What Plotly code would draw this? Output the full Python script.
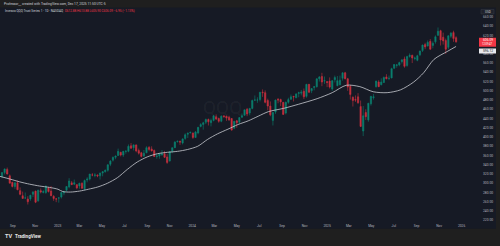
import plotly.graph_objects as go
import pandas as pd

# ---------------- data (weekly OHLC) ----------------
first_week_end = "2022-08-05"

opens_2022 = [315, 323, 330, 316, 302, 293, 301, 284, 273, 268, 266, 266, 276, 283, 262, 284, 280, 280, 290, 283, 272, 266]
highs_2022 = [324, 332, 334, 319, 303, 302, 306, 291, 282, 280, 272, 275, 283, 284, 286, 289, 285, 296, 292, 294, 274, 268]
lows_2022 = [311, 319, 319, 300, 291, 288, 285, 274, 267, 267, 254, 262, 270, 257, 260, 278, 278, 277, 280, 272, 262, 259]
closes_2022 = [323, 331, 320, 300, 293, 301, 286, 276, 267, 268, 260, 274, 281, 259, 285, 281, 282, 293, 282, 273, 267, 266]

opens_2023 = [268, 270, 279, 285, 292, 301, 298, 297, 294, 300, 288, 307, 309, 318, 317, 318, 316, 322, 325, 328, 341, 350, 356, 360, 367, 361,
              369, 369, 381, 377, 383, 371, 366, 359, 366, 378, 374, 371, 358, 359, 361, 364, 357, 348, 369, 377, 390, 391, 387, 397, 406, 409]
highs_2023 = [270, 281, 283, 294, 311, 305, 308, 298, 301, 302, 308, 313, 320, 322, 322, 319, 323, 326, 330, 341, 350, 358, 360, 375, 368, 370,
              372, 384, 387, 384, 384, 375, 368, 372, 380, 380, 380, 373, 364, 365, 372, 370, 363, 370, 377, 391, 392, 392, 397, 408, 410, 412]
lows_2023 = [258, 267, 274, 282, 289, 296, 296, 287, 288, 288, 285, 302, 306, 315, 313, 313, 308, 315, 323, 325, 337, 347, 352, 359, 358, 357,
             364, 367, 374, 371, 367, 362, 356, 357, 365, 369, 369, 357, 353, 353, 360, 355, 342, 347, 365, 376, 388, 383, 384, 394, 398, 408]
closes_2023 = [268, 280, 282, 293, 305, 297, 301, 290, 300, 289, 306, 309, 320, 318, 318, 316, 322, 325, 328, 340, 348, 356, 359, 369, 361, 369,
               369, 380, 376, 383, 370, 365, 358, 365, 377, 373, 370, 358, 359, 364, 364, 356, 345, 368, 377, 389, 391, 389, 396, 405, 408, 410]

opens_2024 = [409, 399, 409, 423, 427, 432, 438, 431, 436, 444, 440, 434, 446, 445, 443, 440, 419, 435, 432, 443, 447, 460, 452, 462, 480, 480,
              481, 497, 496, 479, 467, 436, 454, 482, 481, 475, 452, 475, 482, 488, 485, 494, 495, 499, 488, 514, 500, 507, 509, 526, 531, 521]
highs_2024 = [409, 413, 422, 430, 433, 440, 440, 440, 447, 449, 442, 447, 446, 446, 446, 441, 435, 437, 443, 451, 459, 463, 463, 481, 490, 486,
              497, 503, 501, 483, 477, 454, 481, 484, 483, 476, 477, 485, 492, 489, 495, 498, 502, 505, 515, 515, 506, 510, 527, 532, 539, 531]
lows_2024 = [396, 399, 406, 421, 416, 428, 425, 423, 434, 437, 431, 432, 442, 435, 435, 414, 417, 420, 430, 441, 446, 445, 447, 460, 478, 474,
             477, 487, 473, 458, 445, 425, 450, 473, 467, 448, 449, 472, 480, 477, 484, 486, 490, 482, 485, 495, 495, 501, 507, 520, 510, 515]
closes_2024 = [399, 411, 421, 427, 431, 438, 433, 436, 446, 439, 434, 445, 444, 441, 437, 415, 434, 431, 442, 446, 459, 450, 462, 479, 480, 480,
               497, 496, 475, 467, 448, 453, 480, 480, 476, 449, 475, 481, 487, 487, 493, 496, 497, 487, 514, 497, 505, 509, 526, 530, 519, 522]

opens_2025 = [520, 521, 504, 524, 511, 513, 527, 539, 526, 510, 486, 481, 487, 466, 413, 453, 437, 472, 485, 509, 519, 513, 518, 530, 527, 528,
              549, 555, 556, 563, 569, 555, 574, 577, 570, 566, 578, 587, 600, 597, 607, 598, 606, 620, 630, 616, 609, 594, 618, 626, 615]
highs_2025 = [521, 529, 523, 533, 532, 533, 540, 541, 528, 513, 488, 490, 495, 479, 467, 460, 474, 489, 493, 522, 523, 527, 531, 536, 533, 550,
              558, 558, 563, 568, 574, 576, 581, 578, 574, 578, 587, 600, 604, 609, 612, 607, 620, 637, 632, 626, 613, 620, 627, 630, 618]
lows_2025 = [508, 505, 500, 518, 510, 512, 522, 525, 500, 481, 466, 476, 472, 422, 402, 437, 433, 468, 481, 507, 508, 512, 517, 525, 523, 527,
             547, 550, 553, 559, 550, 552, 572, 560, 566, 564, 575, 584, 590, 596, 589, 592, 602, 619, 598, 600, 580, 590, 614, 606, 604]
closes_2025 = [518, 508, 522, 529, 522, 523, 539, 526, 508, 492, 479, 480, 474, 423, 446, 444, 473, 488, 487, 521, 509, 519, 529, 526, 527, 548,
               557, 556, 561, 567, 553, 574, 577, 571, 571, 576, 586, 599, 595, 605, 590, 603, 617, 629, 610, 608, 590, 619, 625, 613, 606]

# moving average (white line)
ma_dates = ["2022-07-28", "2022-08-25", "2022-09-20", "2022-10-17", "2022-11-13", "2022-12-10", "2023-01-02", "2023-01-15",
            "2023-02-05", "2023-03-01", "2023-03-25", "2023-04-20", "2023-05-16", "2023-06-12", "2023-07-09", "2023-08-05",
            "2023-09-01", "2023-09-29", "2023-10-26", "2023-11-22", "2023-12-19", "2024-01-16", "2024-02-12", "2024-03-10",
            "2024-04-07", "2024-05-04", "2024-06-01", "2024-06-28", "2024-07-26", "2024-09-05", "2024-10-16", "2024-12-05",
            "2025-01-15", "2025-02-22", "2025-03-31", "2025-05-06", "2025-06-13", "2025-07-19", "2025-08-24", "2025-09-20",
            "2025-10-18", "2025-11-25", "2025-12-17"]
ma_values = [315, 309, 303, 298, 294, 291, 287, 282, 281, 283, 287, 292, 300, 312, 330, 346,
             357, 364, 367, 369, 373, 380, 395, 407, 417, 427, 435, 445, 455, 462, 471, 483,
             496, 512, 509, 498, 496, 502, 519, 539, 568, 586, 596]

last_price = 606.09
last_ma = 596.12

ytick_values = list(range(220, 661, 20))
xtick_dates = ["2022-09-01", "2022-11-01", "2023-01-01", "2023-03-01", "2023-05-01", "2023-07-01", "2023-09-01",
               "2023-11-01", "2024-01-01", "2024-03-01", "2024-05-01", "2024-07-01", "2024-09-01", "2024-11-01",
               "2025-01-01", "2025-03-01", "2025-05-01", "2025-07-01", "2025-09-01", "2025-11-01", "2026-01-01"]
xtick_labels = ["Sep", "Nov", "2023", "Mar", "May", "Jul", "Sep", "Nov", "2024", "Mar", "May", "Jul", "Sep", "Nov",
                "2025", "Mar", "May", "Jul", "Sep", "Nov", "2026"]

header_text = "Professor__ created with TradingView.com, Dec 17, 2025 11:50 UTC-5"
symbol_text = "Invesco QQQ Trust Series 1 · 1D · NASDAQ"
ohlc_text = "O612.88 H613.88 L605.90 C606.09 −6.95 (−1.13%)"

# ---------------- build ----------------
opens = opens_2022 + opens_2023 + opens_2024 + opens_2025
highs = highs_2022 + highs_2023 + highs_2024 + highs_2025
lows = lows_2022 + lows_2023 + lows_2024 + lows_2025
closes = closes_2022 + closes_2023 + closes_2024 + closes_2025
weeks = pd.date_range(first_week_end, periods=len(closes), freq="W-FRI")
xc = weeks - pd.Timedelta(days=2)

W, H = 500, 246
def px(x):
    return x / W
def py(y):
    return 1 - y / H

BG = "#161a25"
STRIP = "#1f1f1f"
TXT = "#b2b5be"
UP = "#089981"
DN = "#f23645"
FONT = "Roboto"

fig = go.Figure()
fig.add_trace(go.Candlestick(
    x=xc, open=opens, high=highs, low=lows, close=closes,
    increasing=dict(line=dict(color=UP, width=0.6), fillcolor=UP),
    decreasing=dict(line=dict(color=DN, width=0.6), fillcolor=DN),
    whiskerwidth=0, opacity=0.8, hoverinfo="skip"))
fig.add_trace(go.Scatter(x=ma_dates, y=ma_values, mode="lines",
                         line=dict(color="#c9cbd2", width=0.8, shape="spline", smoothing=0.8),
                         hoverinfo="skip"))

shapes = [
    dict(type="rect", xref="paper", yref="paper", x0=0, x1=px(496), y0=py(230.5), y1=py(7.5),
         fillcolor=BG, line=dict(width=0), layer="below"),
    # last price label
    dict(type="rect", xref="paper", yref="y", x0=px(479), x1=px(496), ysizemode="pixel",
         yanchor=last_price, y0=-5, y1=4, fillcolor=DN, line=dict(width=0)),
    # MA label
    dict(type="rect", xref="paper", yref="y", x0=px(479), x1=px(496), ysizemode="pixel",
         yanchor=last_ma, y0=-7, y1=-2, fillcolor="#e8e8ec", line=dict(width=0)),
    # USD box
    dict(type="rect", xref="paper", yref="paper", x0=px(481), x1=px(494), y0=py(14), y1=py(9.5),
         fillcolor="#1f222b", line=dict(color="#3a3e49", width=0.5)),
]

annotations = [
    dict(x=px(2), y=py(3.8), xref="paper", yref="paper", xanchor="left", yanchor="middle", showarrow=False,
         text=header_text, font=dict(size=3.3, color="#d1d4dc", family=FONT)),
    dict(x=px(3), y=py(11), xref="paper", yref="paper", xanchor="left", yanchor="middle", showarrow=False,
         text=f"<span style='color:#d1d4dc'>{symbol_text}</span>  <span style='color:{DN}'>{ohlc_text}</span>",
         font=dict(size=3.1, family=FONT)),
    dict(x=px(222), y=py(108), xref="paper", yref="paper", xanchor="center", yanchor="middle", showarrow=False,
         text="QQQ", font=dict(size=19, color="rgba(255,255,255,0.05)", family=FONT)),
    dict(x=px(487.5), y=last_price, xref="paper", yref="y", xanchor="center", yanchor="middle", showarrow=False,
         yshift=1.8, text=f"{last_price:.2f}", font=dict(size=3.3, color="white", family=FONT)),
    dict(x=px(487.5), y=last_price, xref="paper", yref="y", xanchor="center", yanchor="middle", showarrow=False,
         yshift=-2.4, text="12:09:47", font=dict(size=2.6, color="white", family=FONT)),
    dict(x=px(487.5), y=last_ma, xref="paper", yref="y", xanchor="center", yanchor="middle", showarrow=False,
         yshift=-4.5, text=f"{last_ma:.2f}", font=dict(size=3.3, color="#131722", family=FONT)),
    dict(x=px(487.5), y=py(11.8), xref="paper", yref="paper", xanchor="center", yanchor="middle", showarrow=False,
         text="USD", font=dict(size=3, color="#d1d4dc", family=FONT)),
    dict(x=px(3), y=py(238), xref="paper", yref="paper", xanchor="left", yanchor="middle", showarrow=False,
         text="<b>TV</b>", font=dict(size=5.5, color="#e8e8e8", family=FONT)),
    dict(x=px(12.5), y=py(238), xref="paper", yref="paper", xanchor="left", yanchor="middle", showarrow=False,
         text="<b>TradingView</b>", font=dict(size=4.6, color="#e8e8e8", family=FONT)),
]

fig.update_layout(
    width=W, height=H, margin=dict(l=0, r=0, t=0, b=0, pad=0),
    paper_bgcolor=STRIP, plot_bgcolor="rgba(0,0,0,0)", showlegend=False,
    shapes=shapes, annotations=annotations,
    xaxis=dict(type="date", domain=[0, px(478)], range=["2022-07-28 12:00", "2026-02-14 12:00"],
               showgrid=False, zeroline=False, showline=False, ticks="",
               tickvals=xtick_dates, ticktext=xtick_labels, tickangle=0,
               tickfont=dict(size=3.3, color=TXT, family=FONT), ticklabelstandoff=2,
               rangeslider=dict(visible=False), fixedrange=True),
    yaxis=dict(side="right", domain=[py(222.5), py(7.5)], range=[219, 680.4],
               showgrid=False, zeroline=False, showline=False, ticks="",
               tickvals=ytick_values, ticktext=[f"{v:.2f}" for v in ytick_values],
               tickfont=dict(size=3.3, color=TXT, family=FONT), ticklabelstandoff=4, fixedrange=True),
)

fig.write_html("out.html")
